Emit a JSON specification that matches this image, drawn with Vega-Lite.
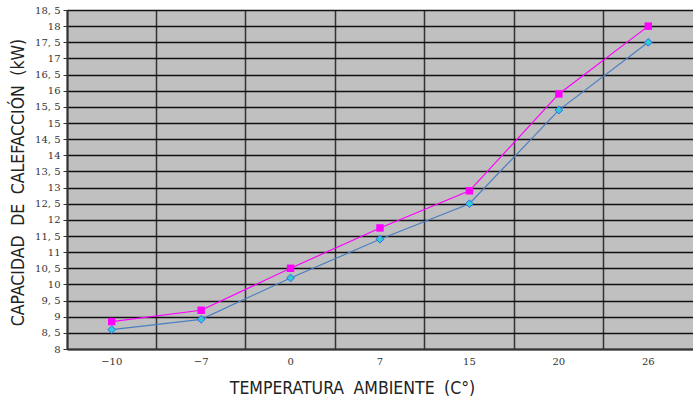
{
  "$schema": "https://vega.github.io/schema/vega-lite/v6.json",
  "autosize": {"type": "none"},
  "width": 626,
  "height": 339,
  "padding": {"left": 67, "top": 10, "right": 0, "bottom": 52},
  "background": "white",
  "config": {
    "view": {"fill": "#c0c0c0", "stroke": "#808080", "strokeWidth": 1},
    "axis": {"labelFont": "DejaVu Serif", "labelFontSize": 10, "labelColor": "#333333", "titleFont": "DejaVu Sans Condensed, Roboto", "titleFontWeight": "normal", "titleFontSize": 17.5, "titleColor": "#222222", "titleBaseline": "middle"}
  },
  "data": {"values": [
    {"t": "-10", "s": "A", "v": 8.85}, {"t": "-7", "s": "A", "v": 9.2}, {"t": "0", "s": "A", "v": 10.5}, {"t": "7", "s": "A", "v": 11.75}, {"t": "15", "s": "A", "v": 12.9}, {"t": "20", "s": "A", "v": 15.9}, {"t": "26", "s": "A", "v": 18.0},
    {"t": "-10", "s": "B", "v": 8.6}, {"t": "-7", "s": "B", "v": 8.92}, {"t": "0", "s": "B", "v": 10.2}, {"t": "7", "s": "B", "v": 11.4}, {"t": "15", "s": "B", "v": 12.5}, {"t": "20", "s": "B", "v": 15.4}, {"t": "26", "s": "B", "v": 17.5}
  ]},
  "encoding": {
    "x": {"field": "t", "type": "ordinal", "sort": ["-10", "-7", "0", "7", "15", "20", "26"],
      "scale": {"type": "band", "paddingInner": 0, "paddingOuter": 0},
      "axis": {"title": "TEMPERATURA\u2002\u200aAMBIENTE\u2002\u200a(C°)", "labelAngle": 0, "ticks": false, "labelPadding": 7,
        "labelExpr": "replace(datum.label, '-', '−')",
        "grid": true, "gridColor": "#333333", "gridWidth": 1.5, "bandPosition": 0,
        "domainColor": "#333333", "domainWidth": 2, "titleX": 285, "titleY": 39, "titleAnchor": "middle"}},
    "y": {"field": "v", "type": "quantitative",
      "scale": {"domain": [8, 18.5], "nice": false, "zero": false},
      "axis": {"title": "CAPACIDAD\u2002\u200aDE\u2002\u200aCALEFACCIÓN\u2002\u200a(kW)", "values": [8, 8.5, 9, 9.5, 10, 10.5, 11, 11.5, 12, 12.5, 13, 13.5, 14, 14.5, 15, 15.5, 16, 16.5, 17, 17.5, 18, 18.5],
        "labelExpr": "replace(toString(datum.value), '.', ', ')",
        "grid": true, "gridColor": "#111111", "gridWidth": 1.5, "tickColor": "#333333", "tickSize": 4, "labelPadding": 3,
        "domainColor": "#333333", "domainWidth": 2, "titleX": -49, "titleY": 172, "titleAnchor": "middle"}}
  },
  "layer": [
    {"mark": {"type": "line", "strokeWidth": 1.2}, "encoding": {"color": {"field": "s", "type": "nominal", "scale": {"domain": ["A", "B"], "range": ["#ff00ff", "#4a7fc1"]}, "legend": null}}},
    {"transform": [{"filter": "datum.s == 'A'"}], "mark": {"type": "point", "shape": "square", "filled": true, "size": 55, "color": "#ff00ff", "opacity": 1}},
    {"transform": [{"filter": "datum.s == 'B'"}], "mark": {"type": "point", "shape": "diamond", "filled": true, "size": 60, "fill": "#33cccc", "stroke": "#3366ff", "strokeWidth": 1, "opacity": 1}}
  ]
}
